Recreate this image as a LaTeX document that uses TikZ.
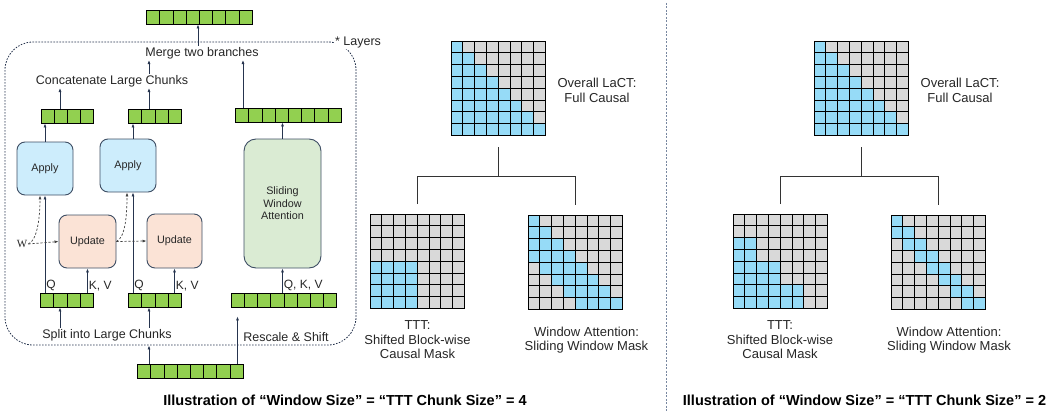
\documentclass[tikz,border=0pt]{standalone}
\usepackage{fontspec}
\setmainfont{Liberation Sans}
\newfontfamily\serifW{Liberation Serif}
\usepackage{tikz}
\usetikzlibrary{arrows.meta}

\definecolor{gruen}{RGB}{146,208,80}
\definecolor{hellblau}{RGB}{205,237,252}
\definecolor{pfirsich}{RGB}{251,227,214}
\definecolor{hellgruen}{RGB}{218,235,211}
\definecolor{rand}{RGB}{62,78,100}
\definecolor{maskeblau}{RGB}{150,219,247}
\definecolor{maskegrau}{RGB}{217,217,217}
\definecolor{linie}{RGB}{38,52,78}
\definecolor{trenner}{RGB}{120,135,160}

% Maske: Name, linke obere Ecke, Bedingung fuer blaue Zellen
\newcommand{\Maske}[3]{%
  \begin{scope}[shift={#2}]
    \foreach \zeile in {0,...,7}
      \foreach \spalte in {0,...,7} {
        \pgfmathtruncatemacro{\blau}{#3}
        \ifnum\blau=1 \def\zfarbe{maskeblau}\else\def\zfarbe{maskegrau}\fi
        \draw[fill=\zfarbe, draw=black, line width=0.8pt]
          (\spalte*11.8,\zeile*11.8) rectangle ++(11.8,11.8);
      }
    \node[inner sep=0pt, outer sep=0pt, minimum size=94.4pt, anchor=north west] (#1) at (0,0) {};
  \end{scope}}

\begin{document}
\begin{tikzpicture}[x=1pt, y=-1pt,
    >={Latex[length=4pt,width=3pt]}, % Pfeilspitzen
    text=black!85
    ]
        \useasboundingbox (0,0) rectangle (1055,412);

        \tikzset{
            Pfeil/.style={draw=linie, line width=0.7pt, ->},
            Strich/.style={Pfeil, draw=black!75, dash pattern=on 2.2pt off 1.8pt},
            Block/.style={draw=rand, line width=0.9pt, rounded corners=8pt, inner sep=0pt,
                font=\fontsize{10.8}{12.5}\selectfont},
            Streifen/.style={draw=black, fill=gruen, line width=0.9pt, inner sep=0pt,
                minimum width=#1*13.2pt, minimum height=14pt,
                path picture={\foreach \k in {1,...,#1}{
                    \draw[line width=0.9pt] ([xshift=\k*13.2pt]path picture bounding box.south west)
                        -- ([xshift=\k*13.2pt]path picture bounding box.north west);}}},
            Txt/.style={font=\fontsize{12.5}{15}\selectfont, inner sep=1pt},
            Lbl/.style={font=\fontsize{12}{14}\selectfont, inner sep=1pt},
            Beschr/.style={font=\fontsize{13}{14.5}\selectfont, align=center, inner sep=0pt},
            Titel/.style={font=\bfseries\fontsize{14.5}{17}\selectfont, text=black},
            Baum/.style={draw=black!80, line width=1.1pt}
        }

        % Rahmen
        \node[draw=linie, dash pattern=on 1.6pt off 1.4pt, line width=0.8pt, rounded corners=28pt,
              minimum width=351pt, minimum height=303pt, inner sep=0pt] (rahmen) at (180.5,193.5) {};
        \node[Txt, fill=white] (layers) at (358,42) {* Layers};

        % Bloecke
        \node[Block, fill=hellblau, minimum width=56pt, minimum height=53pt] (apply1) at (45,168.5) {Apply};
        \node[Block, fill=hellblau, minimum width=56pt, minimum height=53pt] (apply2) at (128,165.5) {Apply};
        \node[Block, fill=pfirsich, minimum width=57pt, minimum height=53pt] (update1) at (87.5,241.5) {Update};
        \node[Block, fill=pfirsich, minimum width=55pt, minimum height=54pt] (update2) at (174.5,241) {Update};
        \node[Block, fill=hellgruen, rounded corners=12pt, minimum width=77pt, minimum height=129pt,
              align=center] (swa) at (282.5,203.5) {Sliding\\Window\\Attention};

        % Streifen
        \node[Streifen=8] (aus) at (199.5,17) {};
        \node[Streifen=4] (s1) at (67.5,116) {};
        \node[Streifen=4] (s2) at (155,116) {};
        \node[Streifen=8] (sR) at (288.5,115) {};
        \node[Streifen=4] (b1) at (67,300) {};
        \node[Streifen=4] (b2) at (155,300) {};
        \node[Streifen=8] (bR) at (284,300) {};
        \node[Streifen=8] (ein) at (190.5,371) {};

        % Texte
        \node[Txt] (merge) at (202,53) {Merge two branches};
        \node[Txt] (konkat) at (112,81) {Concatenate Large Chunks};
        \node[Txt] (split) at (107,335) {Split into Large Chunks};
        \node[Txt] (rescale) at (286,337) {Rescale \& Shift};
        \node[font=\serifW\fontsize{11}{13}\selectfont, inner sep=1pt] (w) at (22,244) {W};

        % Pfeile oben
        \draw[Pfeil] ([xshift=-4pt]merge.north) -- ([xshift=-4pt]merge.north |- aus.south);
        \draw[Pfeil] ([xshift=-6pt]s2.north |- konkat.north) -- ([xshift=-6pt]s2.north |- merge.south);
        \draw[Pfeil] ([xshift=-7.5pt]s1.north) -- ([xshift=-7.5pt]s1.north |- konkat.south);
        \draw[Pfeil] ([xshift=-6pt]s2.north) -- ([xshift=-6pt]s2.north |- konkat.south);
        \draw[Pfeil] ([xshift=-45.5pt]sR.north) -- ([xshift=-45.5pt]sR.north |- merge.south);
        \draw[Pfeil] (apply1.north) -- (apply1.north |- s1.south);
        \draw[Pfeil] ([xshift=5pt]apply2.north) -- ([xshift=5pt]apply2.north |- s2.south);
        \draw[Pfeil] (swa.north) -- (swa.north |- sR.south);

        % Eingaenge Q, K, V
        \draw[Pfeil] (apply1.south |- b1.north) -- node[Lbl, pos=0, anchor=south west] {Q} (apply1.south);
        \draw[Pfeil] (update1.south |- b1.north) -- node[Lbl, pos=0, anchor=south west] {K, V} (update1.south);
        \draw[Pfeil] ([xshift=5pt]apply2.south |- b2.north) -- node[Lbl, pos=0, anchor=south west] {Q} ([xshift=5pt]apply2.south);
        \draw[Pfeil] (update2.south |- b2.north) -- node[Lbl, pos=0, anchor=south west] {K, V} (update2.south);
        \draw[Pfeil] (swa.south |- bR.north) -- node[Lbl, pos=0, anchor=south west] {Q, K, V} (swa.south);

        % Gewichte W
        \draw[Strich] (w.east) -- (update1.west);
        \draw[Strich] (w.east) .. controls +(9pt,4pt) and +(0pt,-22pt) .. ([xshift=-5pt]apply1.south);
        \draw[Strich] (update1.east) -- (update2.west);
        \draw[Strich] (update1.east) .. controls +(9pt,4pt) and +(0pt,-22pt) .. ([xshift=-1pt]apply2.south);

        % Pfeile unten
        \draw[Pfeil] ([xshift=-7pt]b1.south |- split.north) -- ([xshift=-7pt]b1.south);
        \draw[Pfeil] ([xshift=-6pt]b2.south |- split.north) -- ([xshift=-6pt]b2.south);
        \draw[Pfeil] ([xshift=-41.5pt]ein.north) -- ([xshift=-41.5pt]ein.north |- rahmen.south);
        \draw[Pfeil] ([xshift=47pt]ein.north) -- ([xshift=47pt, yshift=-9pt]ein.north |- bR.south);

        % Masken, Fenster = 4
        \Maske{voll1}{(451,41)}{\spalte<=\zeile}
        \Maske{ttt1}{(370,214)}{floor(\zeile/4)>floor(\spalte/4)}
        \Maske{fenster1}{(528,215)}{(\spalte<=\zeile)&&(\spalte>\zeile-4)}
        \node[Beschr] (lvoll1) at (597,90.5) {Overall LaCT:\\Full Causal};
        \node[Beschr] (lttt1) at (417.5,340) {TTT:\\Shifted Block-wise\\Causal Mask};
        \node[Beschr] (lfenster1) at (586.5,340) {Window Attention:\\Sliding Window Mask};
        \draw[Baum] ([yshift=-12pt]voll1.south) -- ++(0,-29pt) coordinate (ast1);
        \draw[Baum] ([yshift=10pt]ttt1.north) |- (ast1) -| ([yshift=10pt]fenster1.north);

        % Masken, Fenster = 2
        \Maske{voll2}{(814,41)}{\spalte<=\zeile}
        \Maske{ttt2}{(733,214)}{floor(\zeile/2)>floor(\spalte/2)}
        \Maske{fenster2}{(891,215)}{(\spalte<=\zeile)&&(\spalte>\zeile-2)}
        \node[Beschr] (lvoll2) at (960,90.5) {Overall LaCT:\\Full Causal};
        \node[Beschr] (lttt2) at (780,340) {TTT:\\Shifted Block-wise\\Causal Mask};
        \node[Beschr] (lfenster2) at (949,340) {Window Attention:\\Sliding Window Mask};
        \draw[Baum] ([yshift=-12pt]voll2.south) -- ++(0,-29pt) coordinate (ast2);
        \draw[Baum] ([yshift=10pt]ttt2.north) |- (ast2) -| ([yshift=10pt]fenster2.north);

        % Trennlinie und Titel
        \draw[draw=trenner, dash pattern=on 2pt off 1.5pt, line width=1pt] (666,3) -- (666,412);
        \node[Titel] (titel1) at (345,400) {Illustration of “Window Size” = “TTT Chunk Size” = 4};
        \node[Titel] (titel2) at (864.5,400) {Illustration of “Window Size” = “TTT Chunk Size” = 2};
\end{tikzpicture}
\end{document}
